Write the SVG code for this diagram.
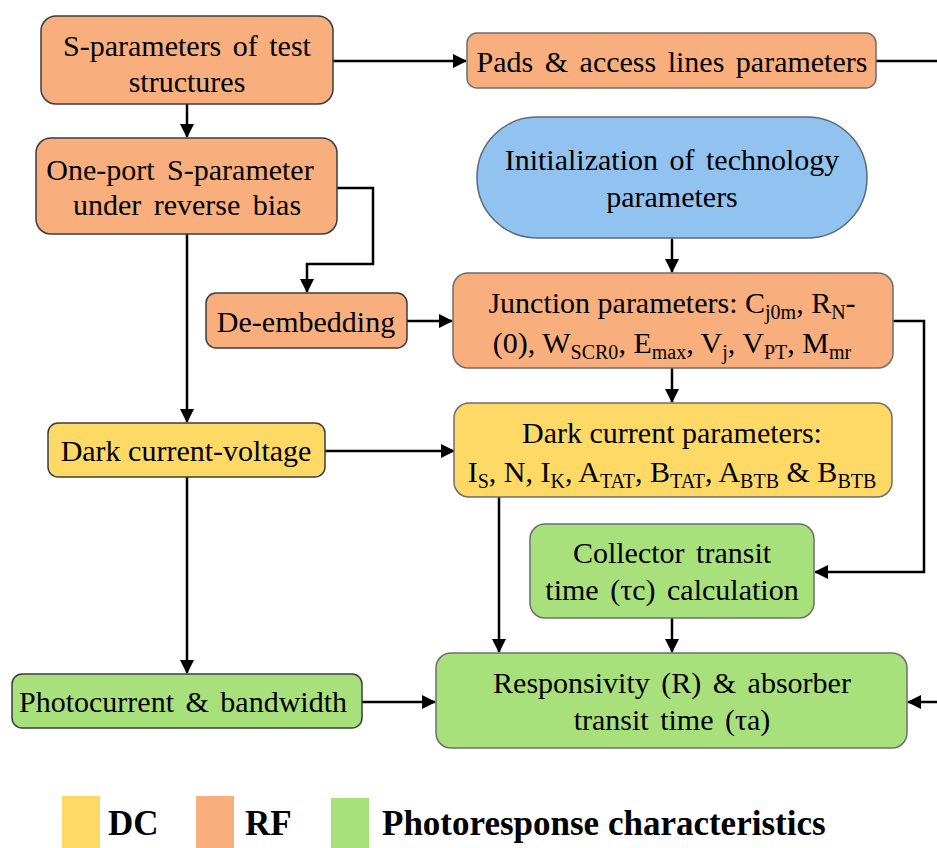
<svg xmlns="http://www.w3.org/2000/svg" width="937" height="848" viewBox="0 0 937 848">
<style>
.rf{fill:#F8AF7D;stroke:#3c3c3c;stroke-width:1.5}
.rf2{fill:#F8AF7D;stroke:#6e6e6e;stroke-width:1.5}
.dc{fill:#FFD966;stroke:#3c3c3c;stroke-width:1.5}
.dc2{fill:#FFD966;stroke:#6e6e6e;stroke-width:1.5}
.ph{fill:#A8E07C;stroke:#3c3c3c;stroke-width:1.5}
.ph2{fill:#A8E07C;stroke:#6e6e6e;stroke-width:1.5}
.bl{fill:#92C2F0;stroke:#5a6a7a;stroke-width:1.5}
.con{fill:none;stroke:#000;stroke-width:2.5}
.arr{marker-end:url(#ah)}
</style>
<defs>
<marker id="ah" markerUnits="userSpaceOnUse" markerWidth="14" markerHeight="14" viewBox="0 0 14 14" refX="13" refY="7" orient="auto">
<path d="M0,0 L14,7 L0,14 Z" fill="#000"/>
</marker>
</defs>
<g id="connectors">
<path class="con arr" d="M333,61 H466"/>
<path class="con" d="M876,61 H937"/>
<path class="con arr" d="M187,104 V137"/>
<path class="con arr" d="M337,188 H373 V264 H307 V292"/>
<path class="con arr" d="M407,321 H452"/>
<path class="con arr" d="M187,234 V422"/>
<path class="con arr" d="M325,451 H454"/>
<path class="con arr" d="M187,477 V673"/>
<path class="con arr" d="M362,702 H435"/>
<path class="con arr" d="M672,238 V272"/>
<path class="con arr" d="M672,368 V402"/>
<path class="con arr" d="M893,321 H924 V572 H815"/>
<path class="con arr" d="M499,497 V652"/>
<path class="con arr" d="M672,618 V652"/>
<path class="con arr" d="M937,702 H908"/>
</g>
<g id="n-sparam">
<rect class="rf" x="41" y="16" width="292" height="88" rx="15"/>
<text font-family="Liberation Serif" font-size="30" text-anchor="middle" x="187" y="56" word-spacing="4">S-parameters of test</text>
<text font-family="Liberation Serif" font-size="30" text-anchor="middle" x="187" y="92">structures</text>
</g>
<g id="n-pads">
<rect class="rf2" x="467" y="33" width="409" height="55" rx="10"/>
<text font-family="Liberation Serif" font-size="30" text-anchor="middle" x="672" y="72" word-spacing="4">Pads &amp; access lines parameters</text>
</g>
<g id="n-oneport">
<rect class="rf" x="36" y="138" width="301" height="96" rx="15"/>
<text font-family="Liberation Serif" font-size="30" text-anchor="middle" x="180" y="180" word-spacing="5">One-port S-parameter</text>
<text font-family="Liberation Serif" font-size="30" text-anchor="middle" x="187" y="215" word-spacing="5">under reverse bias</text>
</g>
<g id="n-init">
<rect class="bl" x="477" y="117" width="390" height="121" rx="60"/>
<text font-family="Liberation Serif" font-size="30" text-anchor="middle" x="672" y="170" word-spacing="4">Initialization of technology</text>
<text font-family="Liberation Serif" font-size="30" text-anchor="middle" x="672" y="207">parameters</text>
</g>
<g id="n-deembed">
<rect class="rf" x="206" y="293" width="201" height="55" rx="10"/>
<text font-family="Liberation Serif" font-size="30" text-anchor="middle" x="306" y="332">De-embedding</text>
</g>
<g id="n-junction">
<rect class="rf2" x="453" y="273" width="440" height="95" rx="15"/>
<text font-family="Liberation Serif" font-size="30" text-anchor="middle" x="672" y="313">Junction parameters: C<tspan font-size="20" dy="6">j0m</tspan><tspan dy="-6">, R</tspan><tspan font-size="20" dy="6">N</tspan><tspan dy="-6">-</tspan></text>
<text font-family="Liberation Serif" font-size="30" text-anchor="middle" x="672" y="353">(0), W<tspan font-size="20" dy="6">SCR0</tspan><tspan dy="-6">, E</tspan><tspan font-size="20" dy="6">max</tspan><tspan dy="-6">, V</tspan><tspan font-size="20" dy="6">j</tspan><tspan dy="-6">, V</tspan><tspan font-size="20" dy="6">PT</tspan><tspan dy="-6">, M</tspan><tspan font-size="20" dy="6">mr</tspan></text>
</g>
<g id="n-darkcv">
<rect class="dc" x="48" y="423" width="277" height="54" rx="10"/>
<text font-family="Liberation Serif" font-size="30" text-anchor="middle" x="186" y="461">Dark current-voltage</text>
</g>
<g id="n-darkparams">
<rect class="dc2" x="454" y="403" width="438" height="94" rx="15"/>
<text font-family="Liberation Serif" font-size="30" text-anchor="middle" x="672" y="443">Dark current parameters:</text>
<text font-family="Liberation Serif" font-size="30" text-anchor="middle" x="672" y="482">I<tspan font-size="20" dy="6">S</tspan><tspan dy="-6">, N, I</tspan><tspan font-size="20" dy="6">K</tspan><tspan dy="-6">, A</tspan><tspan font-size="20" dy="6">TAT</tspan><tspan dy="-6">, B</tspan><tspan font-size="20" dy="6">TAT</tspan><tspan dy="-6">, A</tspan><tspan font-size="20" dy="6">BTB</tspan><tspan dy="-6"> &amp; B</tspan><tspan font-size="20" dy="6">BTB</tspan></text>
</g>
<g id="n-collector">
<rect class="ph2" x="530" y="524" width="284" height="94" rx="15"/>
<text font-family="Liberation Serif" font-size="30" text-anchor="middle" x="672" y="563" word-spacing="4">Collector transit</text>
<text font-family="Liberation Serif" font-size="30" text-anchor="middle" x="672" y="600" word-spacing="4">time (τc)  calculation</text>
</g>
<g id="n-photocurrent">
<rect class="ph" x="12" y="674" width="350" height="54" rx="10"/>
<text font-family="Liberation Serif" font-size="30" text-anchor="middle" x="183" y="712" word-spacing="4">Photocurrent &amp; bandwidth</text>
</g>
<g id="n-responsivity">
<rect class="ph2" x="436" y="653" width="471" height="95" rx="15"/>
<text font-family="Liberation Serif" font-size="30" text-anchor="middle" x="672" y="693" word-spacing="4">Responsivity (R) &amp; absorber</text>
<text font-family="Liberation Serif" font-size="30" text-anchor="middle" x="672" y="730" word-spacing="4">transit time (τa)</text>
</g>
<g id="legend">
<rect x="62" y="796" width="38" height="52" fill="#FFD966"/>
<text font-family="Liberation Serif" font-size="35" font-weight="bold" x="108" y="835">DC</text>
<rect x="196" y="796" width="38" height="52" fill="#F8AF7D"/>
<text font-family="Liberation Serif" font-size="35" font-weight="bold" x="245" y="835">RF</text>
<rect x="331" y="798" width="38" height="50" fill="#A8E07C"/>
<text font-family="Liberation Serif" font-size="35" font-weight="bold" x="382" y="835">Photoresponse characteristics</text>
</g>
</svg>
